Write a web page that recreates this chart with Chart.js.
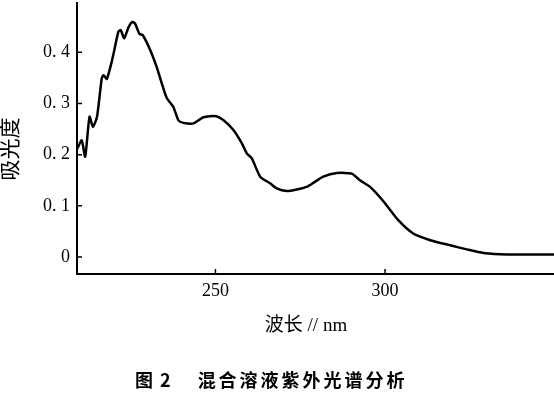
<!DOCTYPE html>
<html>
<head>
<meta charset="utf-8">
<script src="https://cdn.jsdelivr.net/npm/chart.js@4"></script>
<style>
  html, body { margin: 0; padding: 0; background: #fff; }
  #wrap { position: relative; width: 554px; height: 395px; }
  #caption {
    position: absolute; left: 135px; top: 370px;
    font: bold 18px/18px "Noto Sans CJK SC"; letter-spacing: 3px;
    white-space: pre; color: #000;
  }
</style>
</head>
<body>
<div id="wrap">
  <canvas id="uv" width="554" height="395"></canvas>
  <div id="caption"><span>图</span><span style="margin-left:4px">2</span><span style="margin-left:24px">混合溶液紫外光谱分析</span></div>
</div>
<script>
// wavelength (nm) and absorbance
const wavelength = [209.3, 210.6, 211.6, 212.9, 213.9, 215.1, 216.5, 217.0, 218.0, 219.5,
  220.0, 221.4, 222.1, 223.1, 224.4, 225.5, 226.3, 227.6, 228.6, 230.8,
  232.7, 234.2, 235.7, 237.6, 239.1, 240.6, 243.5, 246.5, 250.2, 252.4,
  255.3, 257.8, 259.3, 260.7, 263.2, 266.1, 268.1, 271.0, 274.0, 276.9,
  278.9, 281.8, 285.8, 290.2, 292.6, 295.6, 299.5, 303.9, 308.3, 313.3,
  319.2, 324.1, 329.0, 335.9, 349.8];
const absorbance = [0.212, 0.228, 0.196, 0.274, 0.254, 0.274, 0.349, 0.355, 0.348, 0.383,
  0.398, 0.440, 0.443, 0.427, 0.449, 0.459, 0.456, 0.436, 0.433, 0.404,
  0.371, 0.339, 0.310, 0.293, 0.267, 0.262, 0.261, 0.273, 0.275, 0.267,
  0.248, 0.222, 0.202, 0.193, 0.157, 0.144, 0.134, 0.129, 0.132, 0.137,
  0.145, 0.157, 0.164, 0.163, 0.150, 0.137, 0.109, 0.072, 0.046, 0.033,
  0.023, 0.015, 0.008, 0.005, 0.005];

const xTicks = [250, 300];
const yTicks = [0, 0.1, 0.2, 0.3, 0.4];
const yTickLabels = ['0', '0. 1', '0. 2', '0. 3', '0. 4'];

const points = wavelength.map((w, i) => ({ x: w, y: absorbance[i] }));

// small tick marks pointing into the plot
const innerTicks = {
  id: 'innerTicks',
  afterDraw(chart) {
    const { ctx, chartArea, scales } = chart;
    ctx.save();
    ctx.strokeStyle = '#000';
    ctx.lineWidth = 1.5;
    ctx.beginPath();
    scales.y.ticks.forEach(t => {
      const py = scales.y.getPixelForValue(t.value);
      ctx.moveTo(chartArea.left, py);
      ctx.lineTo(chartArea.left + 5, py);
    });
    scales.x.ticks.forEach(t => {
      const px = scales.x.getPixelForValue(t.value);
      ctx.moveTo(px, chartArea.bottom);
      ctx.lineTo(px, chartArea.bottom - 5);
    });
    ctx.stroke();
    ctx.restore();
  }
};

const serif = "'Liberation Serif', 'Noto Sans CJK SC'";

new Chart(document.getElementById('uv'), {
  type: 'line',
  data: {
    datasets: [{
      data: points,
      borderColor: '#000',
      borderWidth: 2.5,
      pointRadius: 0,
      tension: 0.2,
      fill: false
    }]
  },
  options: {
    responsive: false,
    animation: false,
    layout: { padding: { top: 3, right: 0, bottom: 0, left: 0 } },
    plugins: { legend: { display: false }, tooltip: { enabled: false } },
    scales: {
      x: {
        type: 'linear',
        min: 209.2,
        max: 349.8,
        afterBuildTicks: s => { s.ticks = xTicks.map(v => ({ value: v })); },
        afterFit: s => { s.height = 121; s.paddingLeft = 0; s.paddingRight = 0; },
        grid: { display: false, drawTicks: false },
        border: { display: true, color: '#000', width: 2 },
        ticks: { color: '#000', padding: 6, maxRotation: 0, font: { family: serif, size: 18 } },
        title: {
          display: true, text: '波长 // nm\u3000', color: '#000',
          font: { family: serif, size: 19 }, padding: { top: 0, bottom: 58 }
        }
      },
      y: {
        min: -0.033,
        max: 0.496,
        afterBuildTicks: s => { s.ticks = yTicks.map(v => ({ value: v })); },
        afterFit: s => { s.width = 77; s.paddingTop = 0; s.paddingBottom = 0; },
        grid: { display: false, drawTicks: false },
        border: { display: true, color: '#000', width: 2 },
        ticks: {
          color: '#000', padding: 7, font: { family: serif, size: 18 },
          callback: v => yTickLabels[yTicks.indexOf(Math.round(v * 10) / 10)]
        },
        title: {
          display: true, text: '吸光度\u3000', color: '#000',
          font: { family: serif, size: 21, lineHeight: 1 }, padding: { top: 1, bottom: 0 }
        }
      }
    }
  },
  plugins: [innerTicks]
});
</script>
</body>
</html>
